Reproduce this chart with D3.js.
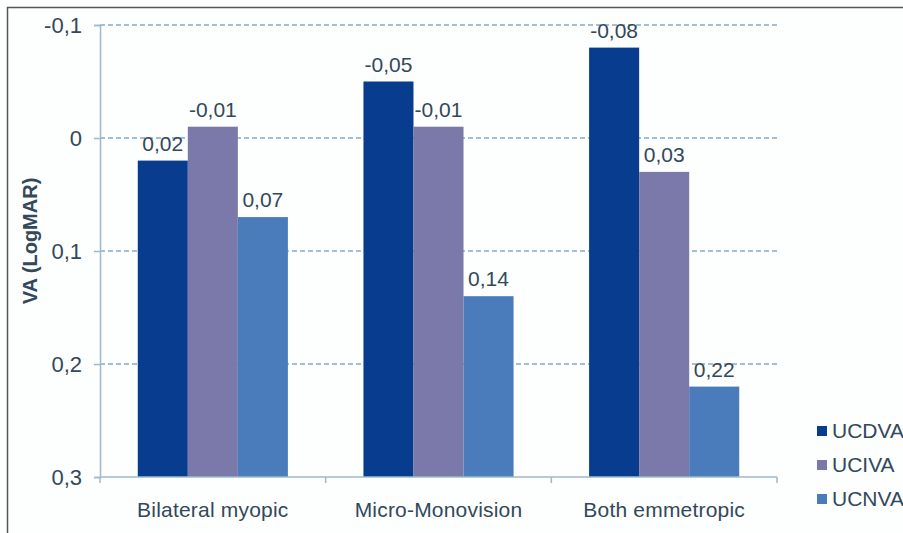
<!DOCTYPE html>
<html>
<head>
<meta charset="utf-8">
<script src="https://cdn.jsdelivr.net/npm/d3@7"></script>
<style>
  html, body { margin: 0; padding: 0; background: #fdfefe; }
  svg { display: block; }
  text { font-family: "Liberation Sans", Arial, sans-serif; fill: #33485a; }
</style>
</head>
<body>
<svg id="chart" width="903" height="533"></svg>
<script>
// Visual acuity (LogMAR) by refractive group
const categories = ["Bilateral myopic", "Micro-Monovision", "Both emmetropic"];
const seriesNames = ["UCDVA", "UCIVA", "UCNVA"];
const ucdva = [0.02, -0.05, -0.08];
const uciva = [-0.01, -0.01, 0.03];
const ucnva = [0.07, 0.14, 0.22];
const yTicks = [-0.1, 0, 0.1, 0.2, 0.3];
const seriesColors = ["#073c8e", "#7a79a9", "#4a7bbb"];

const seriesValues = [ucdva, uciva, ucnva];

const svg = d3.select("#chart");
const W = 903, H = 533;
const plot = { left: 100, right: 777, top: 25, bottom: 477 };

const locale = d3.formatLocale({ decimal: ",", thousands: ".", grouping: [3], currency: ["", ""], minus: "-" });
const fmtTick = locale.format(".1~f");
const fmtVal = locale.format(".2f");

// outer frame
svg.append("rect")
  .attr("x", 7.5).attr("y", 7.5)
  .attr("width", W + 20).attr("height", H + 20)
  .attr("fill", "#fdfefe")
  .attr("stroke", "#555").attr("stroke-width", 1.5);

// inverted LogMAR scale: better acuity towards the top
const y = d3.scaleLinear().domain([-0.1, 0.3]).range([plot.top, plot.bottom]);
const x0 = d3.scaleBand().domain(categories).range([plot.left, plot.right]);
const x1 = d3.scaleBand().domain(seriesNames).range([0, x0.bandwidth()])
  .paddingInner(0).paddingOuter(0.755);

// dashed gridlines
svg.append("g")
  .selectAll("line")
  .data(yTicks.filter(t => t !== 0.3))
  .join("line")
  .attr("x1", plot.left).attr("x2", plot.right)
  .attr("y1", d => y(d)).attr("y2", d => y(d))
  .attr("stroke", "#88abc3").attr("stroke-width", 1.3)
  .attr("stroke-dasharray", "5,3");

// bars rise from the bottom of the axis
const groups = svg.append("g")
  .selectAll("g")
  .data(categories)
  .join("g")
  .attr("transform", d => `translate(${x0(d)},0)`);

const barData = (c, ci) => seriesNames.map((s, si) => ({ s, si, v: seriesValues[si][ci] }));

groups.selectAll("rect")
  .data((c, ci) => barData(c, ci))
  .join("rect")
  .attr("x", d => x1(d.s))
  .attr("width", x1.bandwidth())
  .attr("y", d => y(d.v))
  .attr("height", d => y(0.3) - y(d.v))
  .attr("fill", d => seriesColors[d.si]);

groups.selectAll("text.val")
  .data((c, ci) => barData(c, ci))
  .join("text")
  .attr("class", "val")
  .attr("x", d => x1(d.s) + x1.bandwidth() / 2)
  .attr("y", d => y(d.v) - 10)
  .attr("text-anchor", "middle")
  .attr("font-size", 21)
  .text(d => fmtVal(d.v));

// y axis
const yAxis = d3.axisLeft(y).tickValues(yTicks).tickFormat(fmtTick).tickSize(6).tickPadding(12);
const gy = svg.append("g").attr("transform", `translate(${plot.left},0)`).call(yAxis);
gy.select(".domain").attr("stroke", "#9cbacb").attr("stroke-width", 1.5);
gy.selectAll(".tick line").attr("stroke", "#9cbacb").attr("stroke-width", 1.5);
gy.selectAll(".tick text").attr("font-size", 22).attr("fill", "#33485a")
  .attr("font-family", "'Liberation Sans', Arial, sans-serif");

// x axis with ticks at category boundaries
const xAxisLine = svg.append("g").attr("transform", `translate(0,${plot.bottom})`);
xAxisLine.append("line")
  .attr("x1", plot.left).attr("x2", plot.right)
  .attr("stroke", "#9cbacb").attr("stroke-width", 1.5);
const bounds = categories.map(c => x0(c)).concat([x0(categories[categories.length - 1]) + x0.bandwidth()]);
xAxisLine.selectAll("line.tk")
  .data(bounds)
  .join("line")
  .attr("class", "tk")
  .attr("x1", d => d).attr("x2", d => d)
  .attr("y1", 0).attr("y2", 6)
  .attr("stroke", "#9cbacb").attr("stroke-width", 1.5);
xAxisLine.selectAll("text")
  .data(categories)
  .join("text")
  .attr("x", d => x0(d) + x0.bandwidth() / 2)
  .attr("y", 40)
  .attr("text-anchor", "middle")
  .attr("font-size", 21)
  .attr("letter-spacing", 0.2)
  .text(d => d);

// y axis title
svg.append("text")
  .attr("transform", `translate(37,241) rotate(-90)`)
  .attr("text-anchor", "middle")
  .attr("font-size", 20)
  .attr("font-weight", "bold")
  .text("VA (LogMAR)");

// legend
const legend = svg.append("g")
  .selectAll("g")
  .data(seriesNames)
  .join("g")
  .attr("transform", (d, i) => `translate(817,${438 + i * 34})`);
legend.append("rect")
  .attr("x", 0).attr("y", -12)
  .attr("width", 10).attr("height", 10)
  .attr("fill", (d, i) => seriesColors[i]);
legend.append("text")
  .attr("x", 15).attr("y", 0)
  .attr("font-size", 21)
  .text(d => d);
</script>
</body>
</html>
